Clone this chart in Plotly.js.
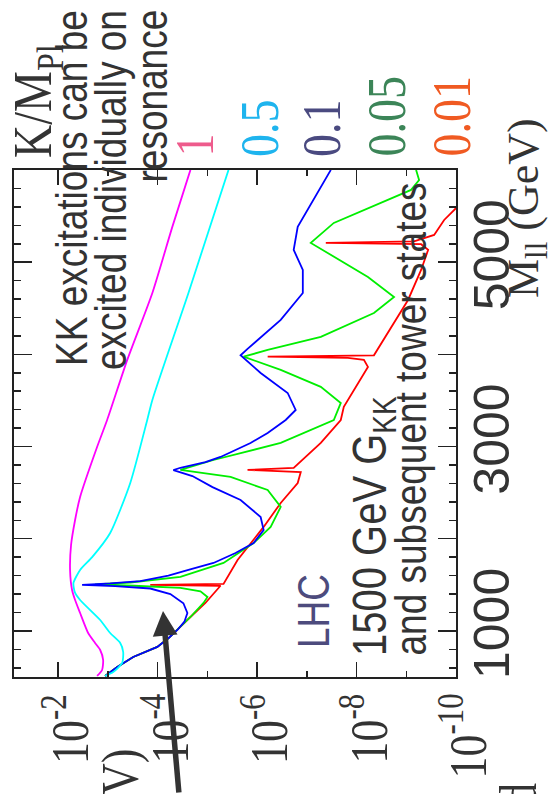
<!DOCTYPE html>
<html>
<head>
<meta charset="utf-8">
<script src="https://cdn.plot.ly/plotly-3.0.1.min.js"></script>
<style>
html,body{margin:0;padding:0;background:#fff;}
#chart{width:556px;height:794px;}
</style>
</head>
<body>
<div id="chart"></div>
<script>
// ---- data (dilepton invariant mass in GeV, cross section) ----
var massK1   = [511, 576, 684, 793, 869, 977, 1194, 1335, 1444, 1661, 1932, 2203, 2453, 2995, 3288, 3940, 4666, 5383, 6001];
var sigmaK1  = [1.64e-3, 1.30e-3, 1.24e-3, 1.42e-3, 1.80e-3, 2.48e-3, 3.60e-3, 4.54e-3, 5.22e-3, 5.73e-3, 5.47e-3, 4.54e-3, 3.60e-3, 1.64e-3, 1.03e-3, 4.06e-4, 1.27e-4, 5.04e-5, 2.18e-5];

var massK05  = [511, 554, 652, 771, 869, 977, 1118, 1335, 1420, 1520, 1661, 1800, 2062, 2605, 3288, 3505, 4666, 6001];
var sigmaK05 = [1.13e-3, 7.78e-4, 5.13e-4, 4.90e-4, 5.62e-4, 8.95e-4, 1.42e-3, 3.60e-3, 4.60e-3, 4.90e-3, 3.60e-3, 2.06e-3, 8.95e-4, 3.53e-4, 1.61e-4, 1.27e-4, 2.39e-5, 3.74e-6];

var massK01  = [511, 609, 717, 826, 920, 1010, 1100, 1194, 1300, 1400, 1460, 1485, 1500, 1515, 1540, 1600, 1661, 1737, 1845, 1954, 2095, 2236, 2420, 2560, 2680, 2745, 2770, 2830, 2887, 3039, 3147, 3288, 3397, 3581, 3798, 3920, 3990, 4060, 4156, 4374, 4666, 4916, 5133, 5383, 6001];
var sigmaK01 = [1.13e-3, 6.46e-4, 3.08e-4, 1.01e-4, 6.05e-5, 3.99e-5, 2.88e-5, 2.51e-5, 3.02e-5, 5.52e-5, 1.40e-4, 7.10e-4, 3.28e-3, 8.95e-4, 2.22e-4, 6.05e-5, 2.39e-5, 7.50e-6, 2.70e-6, 1.17e-6, 7.36e-7, 8.45e-7, 2.14e-6, 7.85e-6, 1.99e-5, 4.80e-5, 3.47e-5, 1.09e-5, 5.42e-6, 1.35e-6, 6.11e-7, 2.65e-7, 1.67e-7, 2.42e-7, 8.45e-7, 1.55e-6, 2.14e-6, 1.55e-6, 9.73e-7, 3.34e-7, 1.20e-7, 1.20e-7, 1.83e-7, 1.52e-7, 3.28e-8];

var massK005  = [511, 609, 717, 826, 920, 1010, 1151, 1303, 1368, 1430, 1466, 1490, 1505, 1525, 1585, 1737, 1954, 2128, 2345, 2529, 2670, 2746, 2854, 3039, 3288, 3473, 3647, 3831, 3975, 4048, 4189, 4449, 4623, 4840, 5057, 5209, 5426, 5643, 5784, 5892, 6001];
var sigmaK005 = [1.13e-3, 6.46e-4, 3.08e-4, 1.01e-4, 6.05e-5, 3.99e-5, 2.18e-5, 1.19e-5, 9.90e-6, 1.37e-5, 3.47e-5, 3.00e-4, 1.80e-3, 3.53e-4, 3.47e-5, 4.71e-6, 1.17e-6, 5.32e-7, 3.34e-7, 6.11e-7, 3.40e-6, 3.47e-5, 7.50e-6, 3.34e-7, 2.86e-8, 2.07e-8, 5.22e-8, 3.34e-7, 1.86e-6, 6.11e-7, 5.22e-8, 4.46e-9, 1.76e-9, 5.89e-9, 2.86e-8, 8.30e-8, 2.86e-8, 3.22e-9, 8.00e-10, 5.52e-10, 6.34e-10];

var massK001  = [511, 609, 717, 826, 920, 1010, 1151, 1303, 1400, 1490, 1500, 1510, 1769, 2128, 2388, 2605, 2724, 2746, 2768, 3039, 3288, 3430, 3864, 3940, 3961, 3975, 3990, 4298, 4590, 4916, 5133, 5195, 5210, 5225, 5296, 5458, 5589];
var sigmaK001 = [1.13e-3, 6.46e-4, 3.08e-4, 1.01e-4, 6.05e-5, 3.99e-5, 2.18e-5, 1.09e-5, 7.50e-6, 5.42e-6, 1.40e-4, 4.71e-6, 2.46e-6, 7.36e-7, 3.34e-7, 1.52e-7, 1.32e-7, 1.55e-6, 1.83e-7, 5.22e-8, 2.07e-8, 1.80e-8, 5.89e-9, 7.10e-9, 1.49e-8, 6.11e-7, 4.46e-9, 2.02e-9, 9.20e-10, 5.03e-10, 3.63e-10, 5.03e-10, 4.14e-8, 6.97e-10, 2.75e-10, 1.73e-10, 9.90e-11];

var couplingLabels = ['1', '0.5', '0.1', '0.05', '0.01'];
var couplingTextColors = ['#ee5b8c', '#1eb4ee', '#4a4a80', '#3c8558', '#f05a22'];
var sigmaTickVals = [1e-2, 1e-4, 1e-6, 1e-8, 1e-10];
var sigmaTickText = ['10<sup>-2</sup>', '10<sup>-4</sup>', '10<sup>-6</sup>', '10<sup>-8</sup>', '10<sup>-10</sup>'];
var sigmaMinorVals = [1e-3, 1e-5, 1e-7, 1e-9];
var massTickVals = [1000, 2000, 3000, 4000, 5000, 6000];
var massTickText = ['1000', '', '3000', '', '5000', ''];

// ---- helpers: pixel -> paper coordinates (plot area 14..456 x 170..677) ----
var PL = 14, PR = 456, PT = 170, PB = 677;
function px(x){ return (x - PL) / (PR - PL); }
function py(y){ return (PB - y) / (PB - PT); }

var SERIF = 'Liberation Serif, Times New Roman, Times, serif';
var SANS = 'Liberation Sans, Arial, Helvetica, sans-serif';
var DARK = '#333333';

function curve(xs, ys, color, smooth){
  var line = {color: color, width: 1.8};
  if (smooth) { line.shape = 'spline'; line.smoothing = 0.6; }
  return {x: xs, y: ys, type: 'scatter', mode: 'lines',
          line: line, hoverinfo: 'skip', showlegend: false};
}
var data = [
  curve(sigmaK001, massK001, '#ff0000', false),
  curve(sigmaK005, massK005, '#00ee00', false),
  curve(sigmaK01, massK01, '#0000ff', false),
  curve(sigmaK05, massK05, '#00ffff', true),
  curve(sigmaK1, massK1, '#ff00ff', true)
];

var annotations = [];
// cross-section tick labels, placed at the tick values through the log x axis
for (var k = 0; k < sigmaTickVals.length; k++){
  annotations.push({text: sigmaTickText[k], xref: 'x', yref: 'paper',
    x: Math.log10(sigmaTickVals[k]), y: py(692), xshift: 8,
    xanchor: 'center', yanchor: 'top', textangle: -90, showarrow: false,
    font: {family: SERIF, size: 44, color: DARK}});
}
var labelX = [194, 260, 322, 386, 451];
for (var i = 0; i < couplingLabels.length; i++){
  annotations.push({text: couplingLabels[i], xref: 'paper', yref: 'paper',
    x: px(labelX[i]), y: py(159), xanchor: 'center', yanchor: 'bottom', textangle: -90,
    showarrow: false, font: {family: SERIF, size: 46, color: couplingTextColors[i]}});
}
function note(text, cx, y, yanchor, size, family, color){
  annotations.push({text: text, xref: 'paper', yref: 'paper', x: px(cx), y: py(y),
    xanchor: 'center', yanchor: yanchor, textangle: -90, showarrow: false,
    font: {family: family, size: size, color: color}});
}
note('K/M<sub>Pl</sub>', 37, 160, 'bottom', 46, SERIF, DARK);
note('KK excitations can be', 73, 8, 'top', 37, SANS, DARK);
note('excited individually on', 112, 8, 'top', 37, SANS, DARK);
note('resonance', 152, 8, 'top', 37, SANS, DARK);
note('LHC', 314, 650, 'bottom', 37, SANS, '#4d4b7d');
note('1500 GeV G<sub>KK</sub>', 373, 658, 'bottom', 40, SANS, DARK);
note('and subsequent tower states', 411, 658, 'bottom', 37, SANS, DARK);
note('M<sub>ll</sub> (GeV)', 526, 300, 'bottom', 44, SERIF, DARK);
note('V)', 120, 747, 'top', 44, SERIF, DARK);
note('d', 518, 781, 'top', 44, SERIF, DARK);
// arrow pointing at the 1500 GeV resonance
annotations.push({text: '', xref: 'paper', yref: 'paper', x: px(163), y: py(611),
  ax: 16, ay: 195, axref: 'pixel', ayref: 'pixel', showarrow: true,
  arrowhead: 2, arrowsize: 0.9, arrowwidth: 5.5, arrowcolor: '#333333', standoff: 0});

var layout = {
  width: 556, height: 794,
  margin: {l: PL, r: 556 - PR, t: PT, b: 794 - PB, pad: 0},
  paper_bgcolor: '#ffffff', plot_bgcolor: '#ffffff',
  showlegend: false,
  xaxis: {
    type: 'log', range: [-1.115, -10], autorange: false,
    tickmode: 'array', tickvals: sigmaTickVals, ticktext: sigmaTickText,
    showticklabels: false,
    ticks: 'inside', ticklen: 15, tickwidth: 1.5, tickcolor: '#222',
    showline: true, linecolor: '#222', linewidth: 2, mirror: 'ticks',
    showgrid: false, zeroline: false,
    minor: {tickmode: 'array', tickvals: sigmaMinorVals, ticks: 'inside', ticklen: 6,
            tickwidth: 1.5, tickcolor: '#222', showgrid: false}
  },
  yaxis: {
    type: 'linear', range: [500, 6000], autorange: false, side: 'right',
    tickmode: 'array', tickvals: massTickVals, ticktext: massTickText,
    ticks: 'inside', ticklen: 18, tickwidth: 1.5, tickcolor: '#222',
    tickangle: -90, tickfont: {family: SANS, size: 50, color: DARK},
    ticklabelstandoff: -9,
    showline: true, linecolor: '#222', linewidth: 2, mirror: 'ticks',
    showgrid: false, zeroline: false,
    minor: {tick0: 0, dtick: 200, ticks: 'inside', ticklen: 7, tickwidth: 1.5,
            tickcolor: '#222', showgrid: false}
  },
  annotations: annotations
};

// The reference glyphs look widened across their reading direction: widen them
// on screen about their own centre (prepend a transform, structure untouched).
function widen(el, S){
  var r = el.getBoundingClientRect();
  if (!r.width || !r.height) return;
  var parent = el.parentNode;
  var ctm = parent.getScreenCTM();
  if (!ctm) return;
  var inv = ctm.inverse();
  var sx = r.left + r.width / 2, sy = r.top + r.height / 2;
  var cx = inv.a * sx + inv.c * sy + inv.e;
  var old = el.getAttribute('transform') || '';
  el.setAttribute('transform', 'translate(' + cx + ',0) scale(' + S + ',1) translate(' + (-cx) + ',0) ' + old);
}

Plotly.newPlot('chart', data, layout, {staticPlot: true, displayModeBar: false}).then(function(gd){
  try {
    gd.querySelectorAll('g.annotation-text-g').forEach(function(g){
      if ((g.textContent || '').indexOf('GeV)') >= 0) return; // keep the edge title inside the page
      widen(g, 1.2);
    });
  } catch (e) {}
});
</script>
</body>
</html>
